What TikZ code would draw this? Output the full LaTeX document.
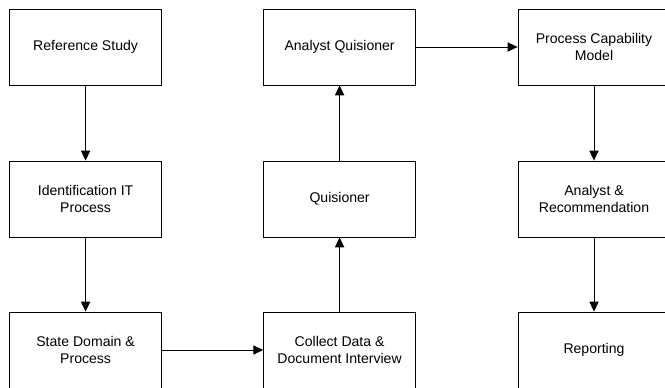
\documentclass[tikz,border=0pt]{standalone}
\usepackage{fontspec}
\setmainfont{Liberation Sans}
\usepackage{tikz}
\usetikzlibrary{arrows.meta, positioning}

\begin{document}
\begin{tikzpicture}[
    >={Triangle[width=6.5pt, length=7pt]},
    stepbox/.style={
        draw=black,
        line width=0.6pt,
        fill=white,
        minimum width=3.8cm,
        minimum height=1.9cm,
        align=center,
        inner sep=2pt,
        font=\fontsize{10}{12.5}\selectfont
    },
    flow/.style={
        draw=black,
        line width=0.6pt,
        ->
    }
]

\useasboundingbox (0,0) rectangle (16.625,9.7);

\node[stepbox] (ref)    at (2.14, 8.525) {Reference Study};
\node[stepbox] (ident)  at (2.14, 4.725) {Identification IT\\Process};
\node[stepbox] (state)  at (2.14, 0.95)  {State Domain \&\\Process};

\node[stepbox] (collect) at (8.49, 0.95)  {Collect Data \&\\Document Interview};
\node[stepbox] (quis)    at (8.49, 4.725) {Quisioner};
\node[stepbox] (aquis)   at (8.49, 8.525) {Analyst Quisioner};

\node[stepbox] (pcm)    at (14.85, 8.525) {Process Capability\\Model};
\node[stepbox] (recom)  at (14.85, 4.725) {Analyst \&\\Recommendation};
\node[stepbox] (report) at (14.85, 0.95)  {Reporting};

\path[flow] (ref) edge (ident);
\path[flow] (ident) edge (state);
\path[flow] (state) edge (collect);
\path[flow] (collect) edge (quis);
\path[flow] (quis) edge (aquis);
\path[flow] (aquis) edge (pcm);
\path[flow] (pcm) edge (recom);
\path[flow] (recom) edge (report);

\end{tikzpicture}
\end{document}
